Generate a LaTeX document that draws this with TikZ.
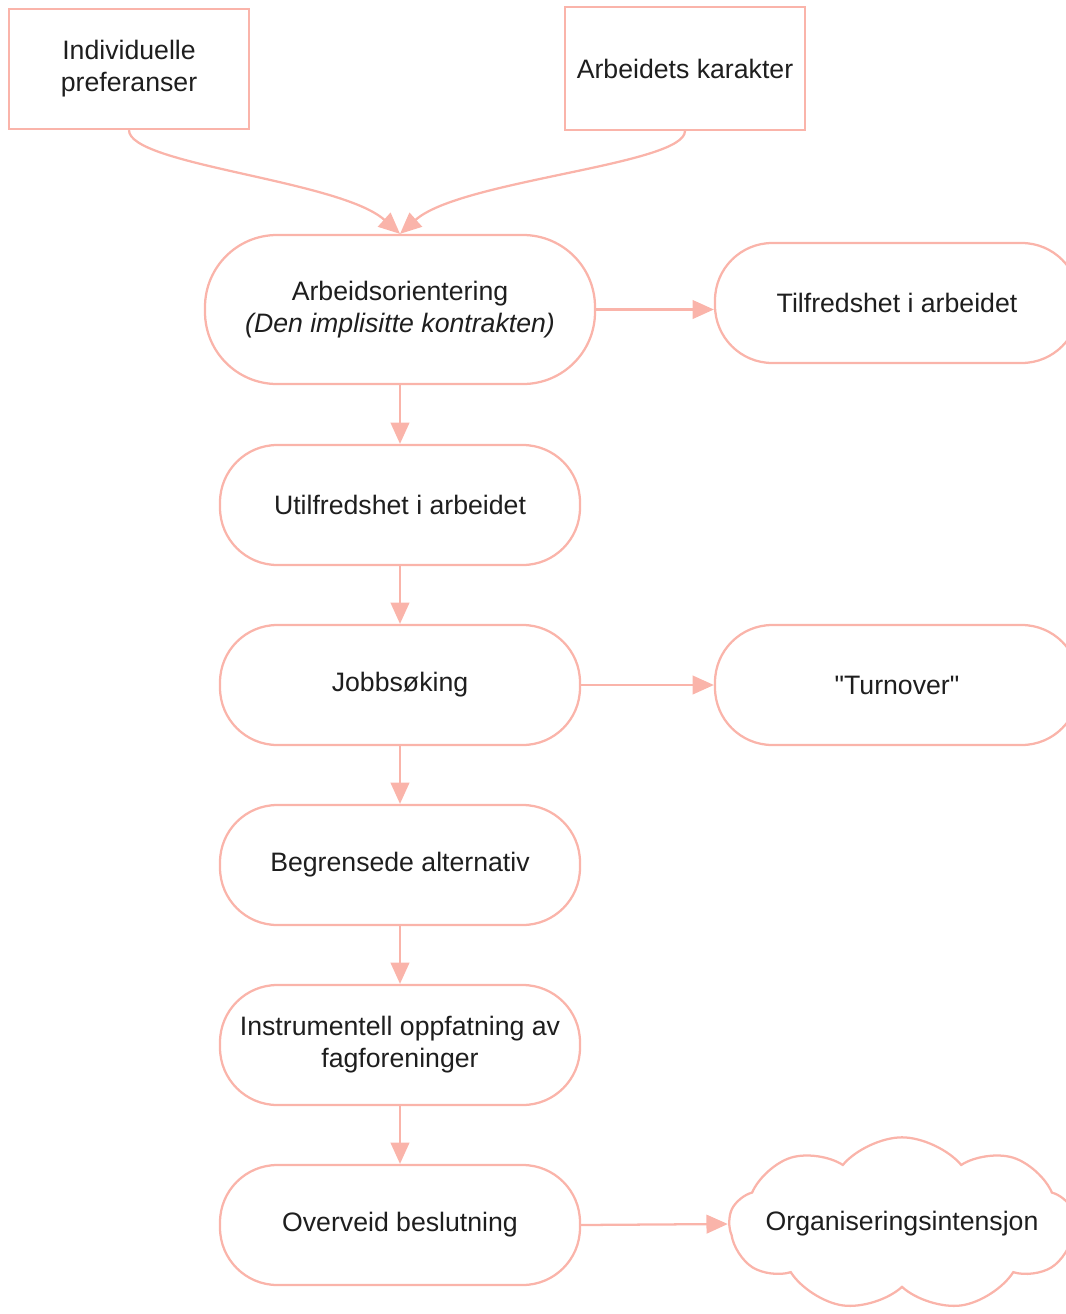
\documentclass[tikz,border=0pt]{standalone}
\usepackage{fontspec}
\setmainfont{Liberation Sans}[Ligatures=TeXOff]
\usetikzlibrary{shapes.symbols,arrows.meta}
\definecolor{pinkc}{RGB}{250,180,170}
\definecolor{txtc}{RGB}{30,30,30}
\begin{document}
\begin{tikzpicture}[x=0.75pt,y=-0.75pt,
  every node/.style={text=txtc,font=\fontsize{20}{24}\selectfont,align=center,line width=1.7pt,draw=pinkc,inner sep=0pt},
  sqbox/.style={rectangle,minimum width=180pt,minimum height=90pt},
  pill/.style={rectangle,rounded corners=43pt,minimum width=270pt,minimum height=90pt},
  bigpill/.style={rectangle,rounded corners=54pt,minimum width=292.5pt,minimum height=111.75pt},
  cloudbox/.style={cloud,cloud puffs=9,cloud puff arc=100,aspect=2,minimum width=259pt,minimum height=130pt},
  arr/.style={draw=pinkc,line width=1.7pt,-{Triangle[length=16pt,width=14pt]}}]
\useasboundingbox (0,0) rectangle (1066,1314);
\node[sqbox] (ip) at (129,69) {Individuelle\\preferanser};
\node[sqbox,minimum height=92pt] (ak) at (685,68.5) {Arbeidets karakter};
\node[bigpill] (ao) at (400,309.5) {Arbeidsorientering\\\textit{(Den implisitte kontrakten)}};
\node[pill,minimum width=273pt] (tf) at (897,303) {Tilfredshet i arbeidet};
\node[pill] (ut) at (400,505) {Utilfredshet i arbeidet};
\node[pill] (js) at (400,685) {Jobbsøking};
\node[pill,minimum width=273pt] (to) at (897,685) {"Turnover"};
\node[pill] (ba) at (400,865) {Begrensede alternativ};
\node[pill] (io) at (400,1045) {Instrumentell oppfatning av\\fagforeninger};
\node[pill] (ob) at (400,1225) {Overveid beslutning};
\node[cloudbox] (oi) at (902,1224) {\makebox[0pt]{Organiseringsintensjon}};
\draw[arr] (ip.south) .. controls (129,165) and (340,180) .. (ao.north);
\draw[arr] (ak.south) .. controls (685,165) and (460,180) .. (ao.north);
\draw[arr] (ao.east) -- (ao.east -| tf.west);
\draw[arr] (ao.south) -- (ut.north);
\draw[arr] (ut.south) -- (js.north);
\draw[arr] (js.east) -- (to.west);
\draw[arr] (js.south) -- (ba.north);
\draw[arr] (ba.south) -- (io.north);
\draw[arr] (io.south) -- (ob.north);
\draw[arr] (ob.east) -- (oi.west);
\end{tikzpicture}
\end{document}
